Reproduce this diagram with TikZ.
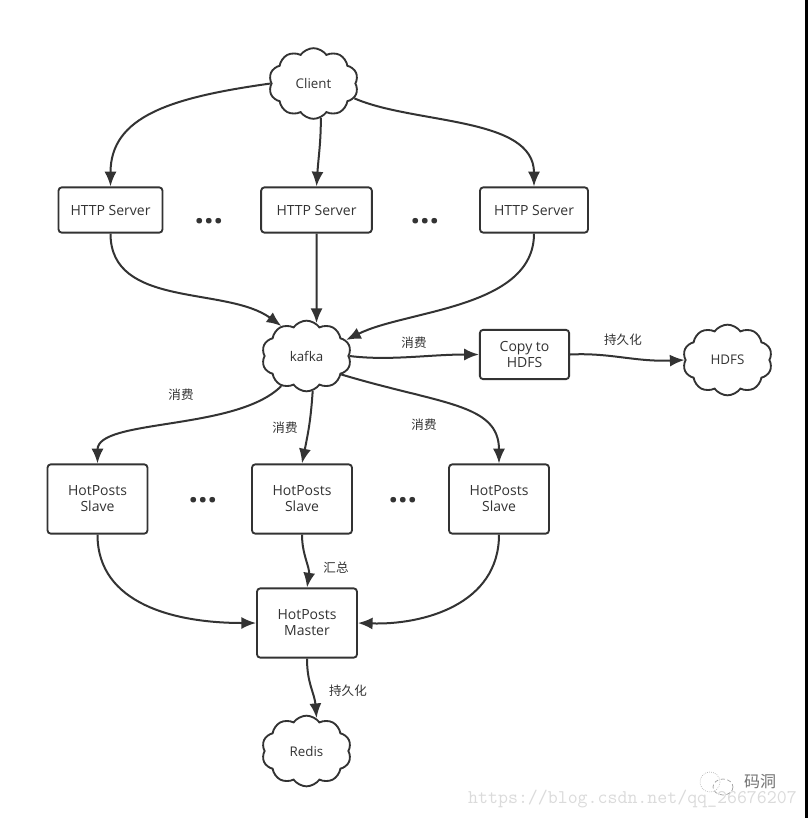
\documentclass[tikz,border=0pt]{standalone}
\usepackage{fontspec}
\setmainfont{Open Sans}
\newfontfamily\cjk{Noto Sans CJK SC}
\usetikzlibrary{shapes.symbols, arrows.meta}
\definecolor{inkdark}{HTML}{333333}
\tikzset{
	px/.style={x=0.75pt, y=-0.75pt},
	server/.style={draw=inkdark, line width=1.4pt, rounded corners=2.5pt, fill=white, align=center,
		text=inkdark, font=\fontsize{10.5}{12}\selectfont, inner sep=0pt},
	puff/.style={cloud, cloud puffs=10, cloud puff arc=110, aspect=1.2, draw=inkdark, line width=1.4pt, fill=white,
		text=inkdark, font=\fontsize{10}{12}\selectfont, inner sep=0pt, minimum width=67pt, minimum height=53pt},
	flow/.style={draw=inkdark, line width=1.5pt, -{Latex[length=11pt, width=9pt]}},
	note/.style={text=inkdark, font=\cjk\fontsize{9.4}{11}\selectfont, inner sep=0pt},
	dots/.style={text=inkdark, font=\bfseries\fontsize{25}{25}\selectfont, inner sep=0pt},
}
\begin{document}
\begin{tikzpicture}[px]
	\useasboundingbox (0,0) rectangle (808,818);
	\fill[white] (0,0) rectangle (808,818);
	% clouds
	\node[puff] (client) at (313.5,83.5) {Client};
	\node[puff] (kafka) at (306.5,356) {kafka};
	\node[puff] (hdfs) at (727.5,360) {HDFS};
	\node[puff] (redis) at (306.5,751) {Redis};
	% boxes
	\node[server, minimum width=78pt, minimum height=34pt] (http1) at (110.5,210) {HTTP Server};
	\node[server, minimum width=83pt, minimum height=34pt] (http2) at (316.5,210) {HTTP Server};
	\node[server, minimum width=81pt, minimum height=34pt] (http3) at (534,210) {HTTP Server};
	\node[server, minimum width=67pt, minimum height=37pt] (copy) at (524.5,354.5) {Copy to\\HDFS};
	\node[server, minimum width=75pt, minimum height=52pt] (slave1) at (97.5,499) {HotPosts\\Slave};
	\node[server, minimum width=75pt, minimum height=52pt] (slave2) at (302,499) {HotPosts\\Slave};
	\node[server, minimum width=75pt, minimum height=52pt] (slave3) at (499,499) {HotPosts\\Slave};
	\node[server, minimum width=75pt, minimum height=52pt] (master) at (307,623) {HotPosts\\Master};
	% connectors
	\draw[flow] (client.west) .. controls +(-100,14) and +(0,-70) .. (http1.north);
	\draw[flow] (client.-78) .. controls +(0,25) and +(2,-30) .. (http2.north);
	\draw[flow] (client.-20) .. controls +(60,26) and +(0,-70) .. (http3.north);
	\draw[flow] (http1.south) .. controls +(0,75) and +(-55,-40) .. (kafka.130);
	\draw[flow] (http2.south) .. controls +(0,30) and +(0,-30) .. (kafka.73);
	\draw[flow] (http3.south) .. controls +(0,75) and +(60,-30) .. (kafka.22);
	\draw[flow] (kafka.east) .. controls +(40,5) and +(-50,0) .. (copy.west);
	\draw[flow] (copy.east) .. controls +(40,-2) and +(-50,2) .. (hdfs.west);
	\draw[flow] (kafka.-130) .. controls +(-45,45) and +(0,-45) .. (slave1.north);
	\draw[flow] (kafka.-80) .. controls +(-2,30) and +(6,-30) .. (slave2.north);
	\draw[flow] (kafka.-28) .. controls +(100,30) and +(0,-60) .. (slave3.north);
	\draw[flow] (slave1.south) .. controls +(0,70) and +(-80,0) .. (master.west);
	\draw[flow] (slave2.south) .. controls +(0,20) and +(3,-20) .. (master.north);
	\draw[flow] (slave3.south) .. controls +(0,70) and +(65,2) .. (master.east);
	\draw[flow] (master.south) .. controls +(0,25) and +(-2,-25) .. (redis.73);
	% labels
	\node[note] (lab1) at (414,343) {消费};
	\node[note] (lab2) at (623,340) {持久化};
	\node[note] (lab3) at (181,395) {消费};
	\node[note] (lab4) at (285,428) {消费};
	\node[note] (lab5) at (424,425) {消费};
	\node[note] (lab6) at (336,568) {汇总};
	\node[note] (lab7) at (348,691) {持久化};
	% dots between the columns
	\node[dots] (gap1) at (209,221) {...};
	\node[dots] (gap2) at (425,221) {...};
	\node[dots] (gap3) at (203,500) {...};
	\node[dots] (gap4) at (403,500) {...};
	% watermark
	\node[text=black!14, font=\ttfamily\fontsize{14.5}{15}\selectfont, anchor=east, inner sep=0pt] (url) at (797,799) {https://blog.csdn.net/qq\_26676207};
	\node[text=black!55, font=\cjk\fontsize{12}{14}\selectfont, inner sep=0pt] (mark) at (760,782) {码洞};
	\draw[black!30, line width=0.5pt, densely dotted] (710,782) circle (10);
	\draw[black!40, line width=0.5pt, densely dashed] (723,787) ellipse (10 and 8);
	\fill[black] (805,0) rectangle (808,818);
\end{tikzpicture}
\end{document}
